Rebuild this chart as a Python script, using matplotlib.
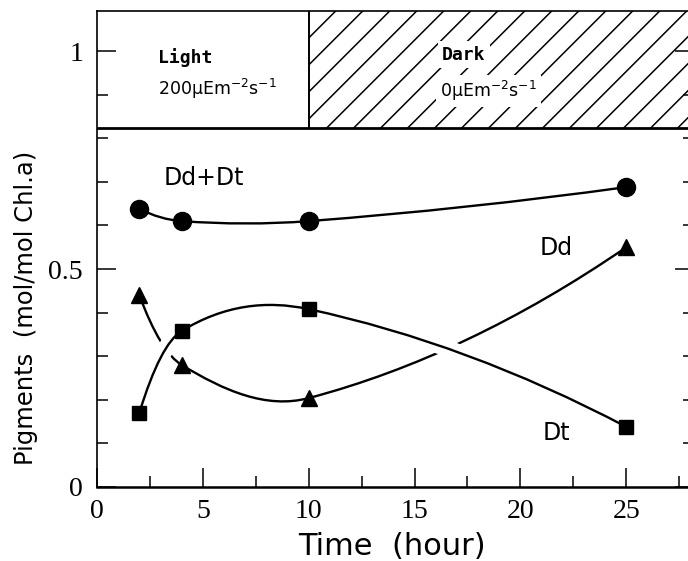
import numpy as np
import matplotlib
matplotlib.use('Agg')
import matplotlib.pyplot as plt
from matplotlib.path import Path
from matplotlib.patches import PathPatch, Rectangle
import matplotlib.patheffects as pe

# data
time = [2, 4, 10, 25]
dd_dt = [0.638, 0.610, 0.610, 0.688]
dd = [0.440, 0.280, 0.204, 0.550]
dt = [0.170, 0.358, 0.408, 0.138]

xticks = [0, 5, 10, 15, 20, 25]
yticks = [0, 0.5, 1]
ytick_labels = ['0', '0.5', '1']

light_end = 10
band_bottom = 0.823
xmax = 28.2
ymax = 1.092


def smooth_path(x, y):
    # cubic hermite through the points, drawn as bezier segments
    x = np.asarray(x, float)
    y = np.asarray(y, float)
    sec = np.diff(y) / np.diff(x)
    m = np.empty_like(y)
    m[1:-1] = (y[2:] - y[:-2]) / (x[2:] - x[:-2])
    m[0] = 2 * sec[0] - m[1]
    m[-1] = 2 * sec[-1] - m[-2]
    verts = [(x[0], y[0])]
    codes = [Path.MOVETO]
    for i in range(len(x) - 1):
        h = x[i + 1] - x[i]
        verts += [(x[i] + h / 3, y[i] + m[i] * h / 3),
                  (x[i + 1] - h / 3, y[i + 1] - m[i + 1] * h / 3),
                  (x[i + 1], y[i + 1])]
        codes += [Path.CURVE4] * 3
    return Path(verts, codes)


fig = plt.figure(figsize=(6.88, 5.61), dpi=100)
ax = fig.add_axes([97 / 688, (561 - 487) / 561, (694 - 97) / 688, (487 - 11) / 561])
ax.set_xlim(0, xmax)
ax.set_ylim(0, ymax)

# curves
ax.add_patch(PathPatch(smooth_path(time, dd_dt), fill=False, lw=1.7, ec='black', zorder=2))
ax.add_patch(PathPatch(smooth_path(time, dd), fill=False, lw=1.7, ec='black', zorder=2))
ax.add_patch(PathPatch(smooth_path(time, dt), fill=False, lw=1.7, ec='black', zorder=3,
                       path_effects=[pe.Stroke(linewidth=12, foreground='white'), pe.Normal()]))

ax.plot(time, dd_dt, 'o', color='black', ms=13, zorder=5)
ax.plot(time, dd, '^', color='black', ms=11, zorder=5)
ax.plot(time, dt, 's', color='black', ms=9.5, zorder=5)

ax.text(5.05, 0.709, 'Dd+Dt', ha='center', va='center', fontsize=17)
ax.text(21.7, 0.548, 'Dd', ha='center', va='center', fontsize=17)
ax.text(21.7, 0.124, 'Dt', ha='center', va='center', fontsize=17)

# light / dark band
ax.axhline(band_bottom, color='black', lw=2.0, zorder=4)
ax.vlines(light_end, band_bottom, ymax, color='black', lw=1.4, zorder=4)

fig.canvas.draw()
sx = ax.bbox.width / xmax
sy = ax.bbox.height / ymax
run = (ymax - band_bottom) * sy / sx
step = 27 / sx
clip = Rectangle((light_end, band_bottom), xmax - light_end, ymax - band_bottom,
                 transform=ax.transData, fill=False, lw=0)
ax.add_patch(clip)
for x0 in np.arange(light_end - run, xmax, step):
    ln, = ax.plot([x0, x0 + run], [band_bottom, ymax], color='black', lw=1.1, zorder=1)
    ln.set_clip_path(clip)

white = dict(facecolor='white', edgecolor='none', pad=3)
ax.text(2.9, 0.986, 'Light', ha='left', va='center', fontsize=13,
        family='DejaVu Sans Mono', weight='bold', zorder=6)
ax.text(2.9, 0.913, '200μEm$^{-2}$s$^{-1}$', ha='left', va='center', fontsize=12.5, zorder=6)
ax.text(16.3, 0.992, 'Dark', ha='left', va='center', fontsize=13,
        family='DejaVu Sans Mono', weight='bold', zorder=6, bbox=white)
ax.text(16.2, 0.909, '0μEm$^{-2}$s$^{-1}$', ha='left', va='center', fontsize=12.5, zorder=6,
        bbox=white)

# axes styling
ax.set_xticks(xticks)
ax.set_xticklabels([str(t) for t in xticks])
ax.set_xticks(np.arange(2.5, xmax, 5), minor=True)
ax.set_yticks(yticks)
ax.set_yticklabels(ytick_labels)
ax.set_yticks([0.1, 0.2, 0.3, 0.4, 0.6, 0.7, 0.8, 0.9], minor=True)
ax.tick_params(which='both', direction='in', top=False, right=True, width=1.1)
ax.tick_params(which='major', length=13.5)
ax.tick_params(which='minor', length=8)
ax.tick_params(axis='x', which='major', pad=9)
ax.tick_params(axis='y', which='major', pad=10)
for lab in ax.get_xticklabels() + ax.get_yticklabels():
    lab.set_family('Liberation Serif')
    lab.set_fontsize(20)
for side in ['left', 'right', 'top']:
    ax.spines[side].set_linewidth(1.2)
ax.spines['bottom'].set_linewidth(1.8)

ax.set_xlabel('Time  (hour)', fontsize=22, labelpad=0)
ax.set_ylabel('Pigments  (mol/mol Chl.a)', fontsize=17.5)
ax.yaxis.set_label_coords(-0.098, 0.376)
ax.xaxis.set_label_coords((392 - 97) / (694 - 97), -0.094)

fig.savefig('out.png', dpi=100)
